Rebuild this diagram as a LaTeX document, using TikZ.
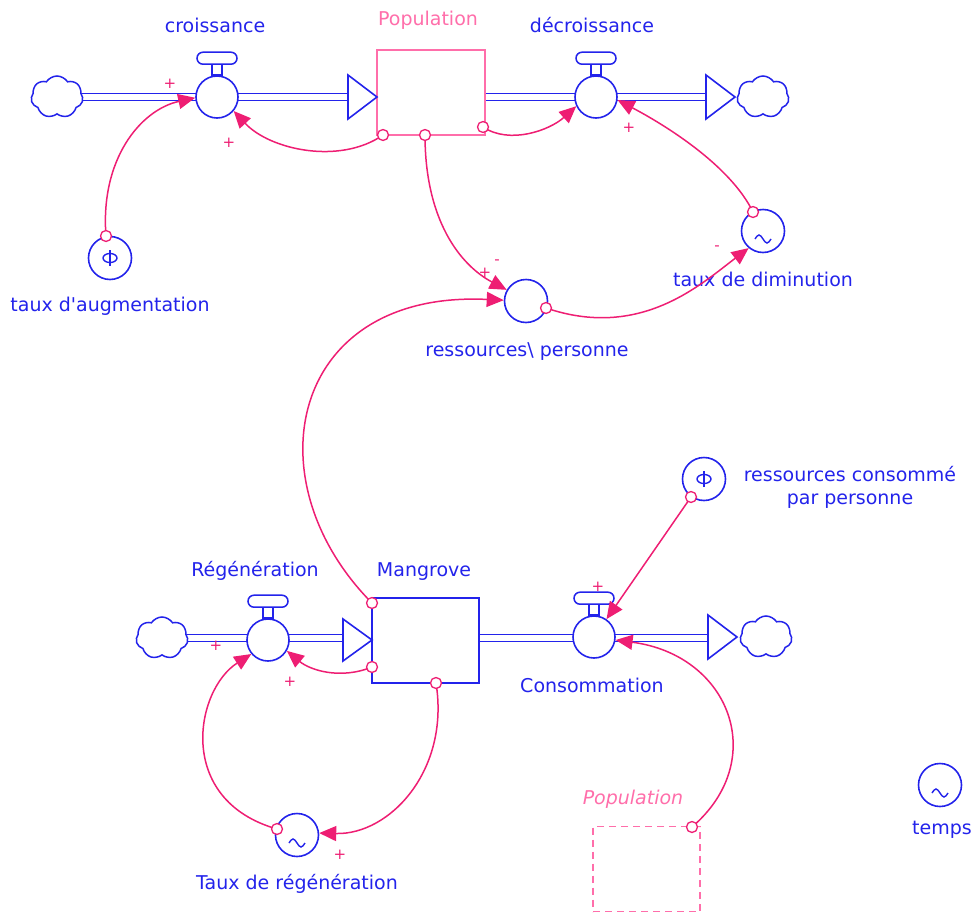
\documentclass[tikz,border=0pt]{standalone}
\usepackage{fontspec}
\setmainfont{DejaVu Sans}
\usetikzlibrary{arrows.meta,shapes.symbols}
\definecolor{sblue}{RGB}{35,35,235}
\definecolor{spink}{RGB}{238,30,115}
\definecolor{lpink}{RGB}{255,110,170}
\tikzset{
  lbl/.style={text=sblue, font=\fontsize{19}{23}\selectfont, inner sep=0pt, align=center},
  plbl/.style={text=lpink, font=\fontsize{19}{23}\selectfont, inner sep=0pt},
  valve/.style={circle, draw=sblue, fill=white, line width=1.6pt, minimum size=42pt, inner sep=0pt},
  aux/.style={circle, draw=sblue, fill=white, line width=1.6pt, minimum size=43pt, inner sep=0pt},
  pipe/.style={draw=sblue, line width=1.6pt, double=white, double distance=5.5pt},
  flowhead/.style={draw=sblue, fill=white, line width=1.6pt, line join=miter},
  cloudy/.style={cloud, cloud puffs=7, cloud puff arc=115, aspect=1.3, draw=sblue, fill=white, line width=1.5pt, minimum width=52pt, minimum height=42pt, inner sep=0pt},
  link/.style={draw=spink, line width=1.5pt, -{Triangle[length=17pt,width=15pt]}},
  port/.style={circle, draw=spink, fill=white, line width=1.3pt, minimum size=11pt, inner sep=0pt},
  sgn/.style={text=spink, font=\fontsize{15}{15}\selectfont, inner sep=0pt},
  stockbox/.style={rectangle, draw=sblue, line width=1.6pt, fill=white, minimum width=107pt, minimum height=85pt, inner sep=0pt},
  popbox/.style={rectangle, draw=lpink, line width=1.3pt, fill=white, minimum width=108pt, minimum height=85pt, inner sep=0pt},
  ghostbox/.style={rectangle, draw=lpink, line width=1.5pt, dash pattern=on 7pt off 5pt, fill=white, minimum width=107pt, minimum height=85pt, inner sep=0pt},
  symb/.style={draw=sblue, line width=1.4pt},
}
\newcommand\valvehandle[1]{%
  \begin{scope}[shift={(#1.north)}]
    \draw[sblue, line width=1.5pt, fill=white] (-5,-11) rectangle (5,0);
    \draw[sblue, line width=1.5pt, fill=white, rounded corners=6pt] (-20,-23) rectangle (20,-11);
  \end{scope}}
\newcommand\constsym[1]{%
  \begin{scope}[shift={(#1.center)}]
    \draw[symb] (0,0) ellipse [x radius=7, y radius=4.5];
    \draw[symb] (0,-8) -- (0,8);
  \end{scope}}
\newcommand\graphsym[1]{%
  \begin{scope}[shift={(#1.center)}]
    \draw[symb] (-8,8) sin (-4,4) cos (0,8) sin (4,12) cos (8,8);
  \end{scope}}
\begin{document}
\begin{tikzpicture}[x=1pt,y=-1pt]
\useasboundingbox (0,0) rectangle (975,913);

% ---------- top chain ----------
\coordinate (ahA) at (350,97);
\coordinate (ahB) at (707,97);
\draw[pipe] (57,97) -- (217,97);
\draw[pipe] (217,97) -- (ahA);
\draw[pipe] (485,97) -- (596,97);
\draw[pipe] (596,97) -- (ahB);

\node[cloudy] (cloudA) at (57,97) {};
\node[cloudy] (cloudB) at (763,97) {};
\node[popbox] (pop) at (431,92.5) {};
\node[valve] (croiss) at (217,97) {};
\node[valve] (decr) at (596,97) {};
\valvehandle{croiss}
\valvehandle{decr}
\draw[flowhead] (377,97) -- (348,75) -- (348,119) -- cycle;
\draw[flowhead] (735,97) -- (706,75) -- (706,119) -- cycle;

\node[aux] (taug) at (110,258) {};
\constsym{taug}
\node[aux] (tdim) at (763,231) {};
\graphsym{tdim}
\node[aux] (ress) at (526,301) {};

% labels top
\node[lbl] at (215,25) {croissance};
\node[plbl] at (428,20) {Population};
\node[lbl] at (592,25) {décroissance};
\node[lbl] at (110,306) {taux d\textquotesingle augmentation};
\node[lbl] at (763,279) {taux de diminution};
\node[lbl] at (527,352) {ressources\textbackslash{} personne};

% ---------- bottom chain ----------
\coordinate (ahC) at (345,638);
\coordinate (ahD) at (709,638);
\draw[pipe] (162,638) -- (268,638);
\draw[pipe] (268,638) -- (ahC);
\draw[pipe] (479,638) -- (594,638);
\draw[pipe] (594,638) -- (ahD);

\node[cloudy] (cloudC) at (162,638) {};
\node[cloudy] (cloudD) at (766,637) {};
\node[stockbox] (mang) at (425.5,640.5) {};
\node[valve] (regen) at (268,640) {};
\node[valve] (cons) at (594,637) {};
\valvehandle{regen}
\valvehandle{cons}
\draw[flowhead] (372,640) -- (343,619) -- (343,661) -- cycle;
\draw[flowhead] (737,637) -- (708,615) -- (708,659) -- cycle;

\node[aux] (rcons) at (704,479) {};
\constsym{rcons}
\node[aux] (tregen) at (297,835) {};
\graphsym{tregen}
\node[ghostbox] (gpop) at (646.5,869) {};
\node[aux] (temps) at (940,785) {};
\graphsym{temps}

% labels bottom
\node[lbl] at (255,571) {Régénération};
\node[lbl] at (424,572) {Mangrove};
\node[lbl] at (592,685) {Consommation};
\node[lbl] at (850,487) {ressources consommé\\par personne};
\node[plbl, font=\fontsize{19}{23}\selectfont\itshape] at (633,799) {Population};
\node[lbl] at (297,884) {Taux de régénération};
\node[lbl] at (942,830) {temps};

% ---------- signs ----------
\node[sgn] at (170,84) {+};
\node[sgn] at (229,143) {+};
\node[sgn] at (629,128) {+};
\node[sgn] at (485,273) {+};
\node[sgn] at (497,262) {-};
\node[sgn] at (717,248) {-};
\node[sgn] at (216,646) {+};
\node[sgn] at (290,682) {+};
\node[sgn] at (340,855) {+};
\node[sgn] at (598,587) {+};

% ---------- connector ports ----------
\coordinate (p1) at (383,135);
\coordinate (p2) at (425,135);
\coordinate (p3) at (483,127);
\coordinate (taugp) at (106,236);
\coordinate (tdimp) at (753,212);
\coordinate (ressp) at (546,308);
\coordinate (m1) at (372,603);
\coordinate (m2) at (372,667);
\coordinate (m3) at (436,683);
\coordinate (trp) at (277,829);
\coordinate (rcp) at (691,497);
\coordinate (gpp) at (692,827);

% ---------- connectors ----------
\draw[link] (p1) .. controls (340,165) and (270,150) .. (croiss.-40);
\draw[link] (taugp) .. controls (100,160) and (140,110) .. (croiss.182);
\draw[link] (p3) .. controls (510,145) and (550,130) .. (decr.205);
\draw[link] (tdimp) .. controls (730,165) and (665,125) .. (decr.-8);
\draw[link] (p2) .. controls (425,220) and (460,265) .. (ress.150);
\draw[link] (m1) .. controls (250,480) and (290,290) .. (ress.178);
\draw[link] (ressp) .. controls (640,340) and (700,285) .. (tdim.230);
\draw[link] (m2) .. controls (340,680) and (310,670) .. (regen.-30);
\draw[link] (m3) .. controls (450,770) and (390,835) .. (tregen.5);
\draw[link] (trp) .. controls (175,800) and (195,690) .. (regen.220);
\draw[link] (rcp) -- (cons.55);
\draw[link] (gpp) .. controls (770,760) and (730,655) .. (cons.-8);

\foreach \p in {p1,p2,p3,taugp,tdimp,ressp,m1,m2,m3,trp,rcp,gpp}
  \node[port] at (\p) {};
\end{tikzpicture}
\end{document}
